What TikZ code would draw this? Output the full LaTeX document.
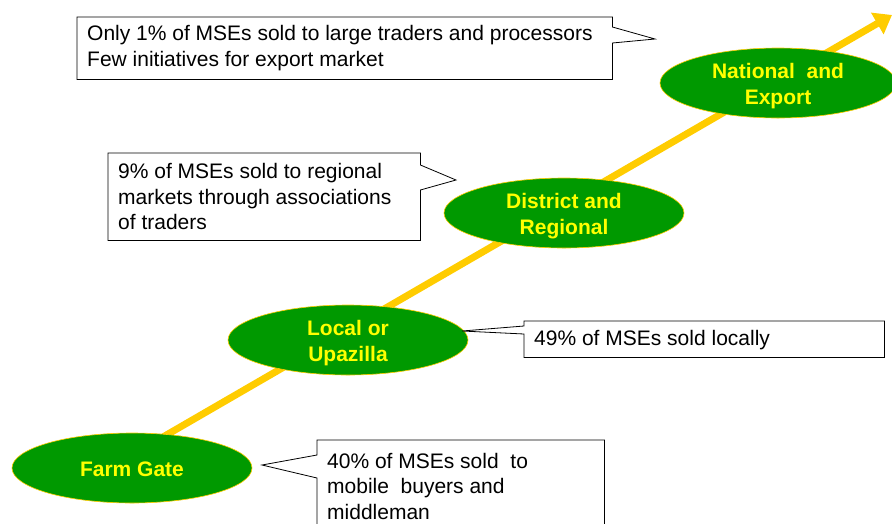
\documentclass[tikz,border=0pt]{standalone}
\usepackage{fontspec}
\setmainfont{Liberation Sans}
\usetikzlibrary{arrows.meta,shapes.geometric,calc}
\definecolor{leaf}{RGB}{0,153,0}
\definecolor{gold}{RGB}{255,204,0}
\definecolor{lemon}{RGB}{255,255,0}
\begin{document}
\begin{tikzpicture}[x=1pt,y=-1pt,
  stage/.style={ellipse, fill=leaf, draw=gold, line width=0.6pt,
    minimum width=240pt, minimum height=70pt, inner sep=0pt},
  stagetext/.style={text=lemon, font=\fontsize{21}{26}\selectfont\bfseries,
    align=center, inner sep=0pt},
  notebox/.style={anchor=north west, inner sep=0pt},
  notetext/.style={anchor=west, inner sep=0pt, align=left,
    font=\fontsize{21}{25.3}\selectfont},
  outline/.style={draw=black, line width=0.8pt, line join=miter},
  flow/.style={gold, line width=7pt, -{Triangle[width=24pt,length=17pt]}}]
\clip (0,0) rectangle (892,523);

% rising market channel
\coordinate (start) at (150,444.5);
\coordinate (end) at (892,15);
\draw[flow] (start) -- (end);

% market levels
\node[stage] (farm) at (132,468) {};
\node[stage] (local) at (348,340) {};
\node[stage] (district) at (564,213) {};
\node[stage, minimum width=236pt] (national) at (778,83) {};
\node[stagetext] (farmtxt) at ([yshift=-1pt]farm.center) {Farm Gate};
\node[stagetext] (localtxt) at ([yshift=-3.5pt]local.center) {Local or\\Upazilla};
\node[stagetext] (districttxt) at ([yshift=-3.5pt]district.center) {District and\\Regional};
\node[stagetext] (nationaltxt) at ([yshift=-3.5pt]national.center) {National~ and\\Export};

% note boxes
\node[notebox, minimum width=535pt, minimum height=62pt] (n1) at (77,17) {};
\node[notebox, minimum width=312pt, minimum height=87pt] (n2) at (108,153) {};
\node[notebox, minimum width=360pt, minimum height=36pt] (n3) at (524,321) {};
\node[notebox, minimum width=287pt, minimum height=92pt] (n4) at (317,440) {};

\node[notetext] (n1txt) at ([xshift=10pt]n1.west)
  {Only 1\% of MSEs sold to large traders and processors\\Few initiatives for export market};
\node[notetext] (n2txt) at ([xshift=10pt]n2.west)
  {9\% of MSEs sold to regional\\markets through associations\\of traders};
\node[notetext] (n3txt) at ([xshift=10pt,yshift=-1pt]n3.west)
  {49\% of MSEs sold locally};
\node[notetext] (n4txt) at ([xshift=10pt]n4.west)
  {40\% of MSEs sold~ to\\mobile~ buyers and\\middleman};

% callout pointers
\coordinate (p1) at (655,39);
\coordinate (p2) at (456,180);
\coordinate (p3) at (462,331);
\coordinate (p4) at (262,465);

\draw[outline] (n1.north west) -- (n1.north east) -- ($(n1.north east)+(0,10)$) -- (p1)
  -- ($(n1.north east)+(0,26)$) -- (n1.south east) -- (n1.south west) -- cycle;
\draw[outline] (n2.north west) -- (n2.north east) -- ($(n2.north east)+(0,12)$) -- (p2)
  -- ($(n2.north east)+(0,37)$) -- (n2.south east) -- (n2.south west) -- cycle;
\draw[outline] (n3.north west) -- ($(n3.north west)+(0,5)$) -- (p3)
  -- ($(n3.north west)+(0,13)$) -- (n3.south west) -- (n3.south east) -- (n3.north east) -- cycle;
\draw[outline] (n4.north west) -- ($(n4.north west)+(0,15)$) -- (p4)
  -- ($(n4.north west)+(0,38)$) -- (n4.south west) -- (n4.south east) -- (n4.north east) -- cycle;
\end{tikzpicture}
\end{document}
